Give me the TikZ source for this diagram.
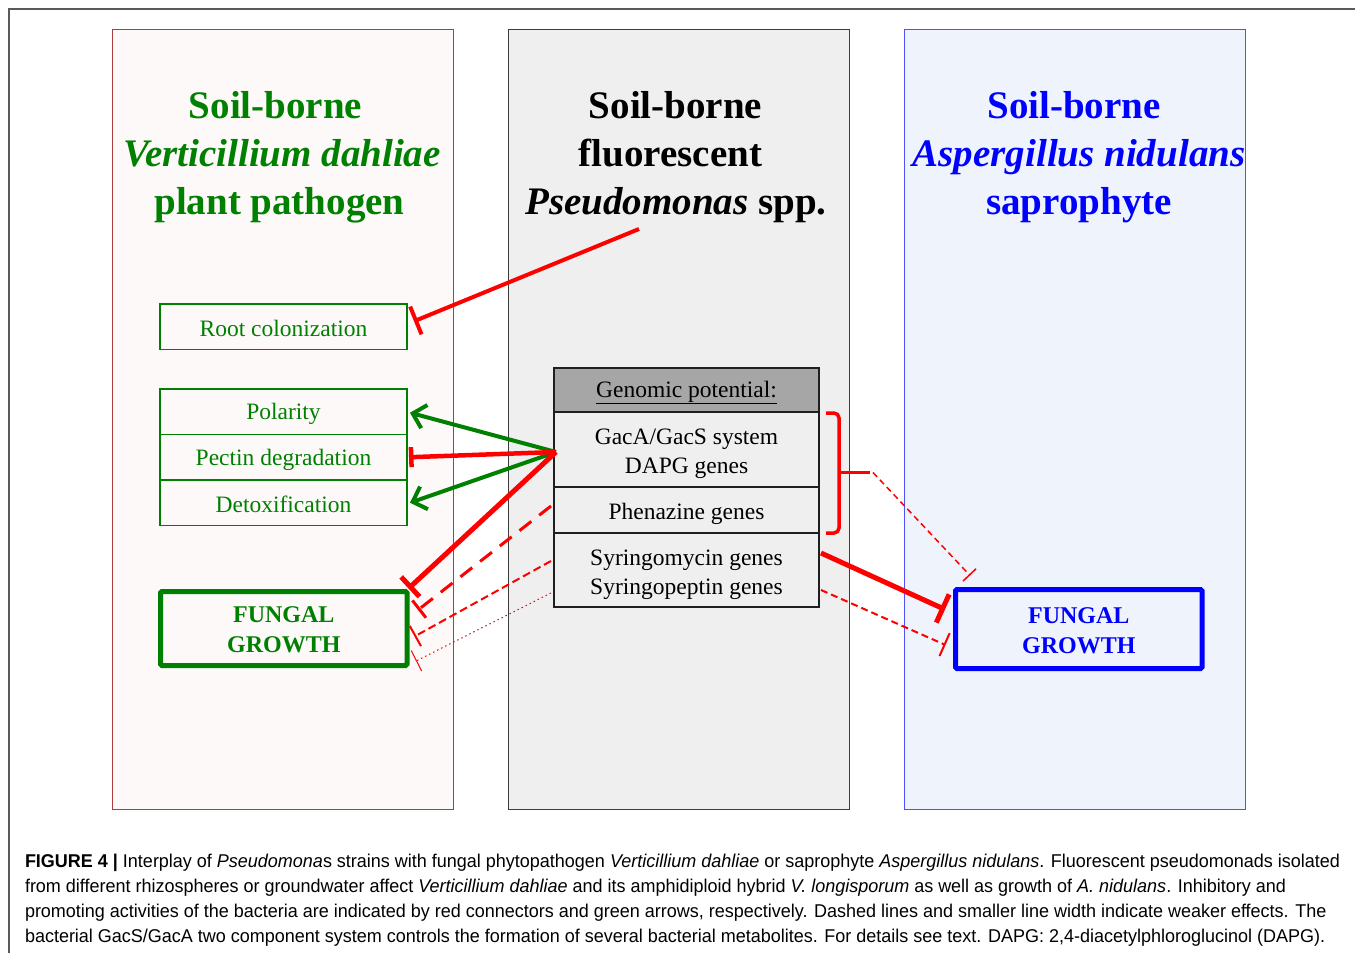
\documentclass[tikz,border=0pt]{standalone}
\usepackage{fontspec}
\usepackage{graphicx}
\setmainfont{Liberation Serif}
\newfontfamily\capfont{Liberation Sans}
\usetikzlibrary{arrows.meta}
\definecolor{dgreen}{RGB}{0,128,0}
\definecolor{lborder}{RGB}{175,60,60}
\definecolor{lfill}{RGB}{253,249,249}
\definecolor{mfill}{RGB}{239,239,239}
\definecolor{mborder}{RGB}{60,60,60}
\definecolor{rfill}{RGB}{239,243,252}
\definecolor{rborder}{RGB}{80,80,255}
\definecolor{hfill}{RGB}{166,166,166}
\definecolor{ired}{RGB}{255,0,0}
\definecolor{capgray}{RGB}{45,45,45}
\definecolor{framegray}{RGB}{90,90,90}
\newcommand\dnshift[2]{\raisebox{-#1}[\height][\depth]{#2}}
\newsavebox\capboxA
\newsavebox\capboxB
\newsavebox\capboxC
\newsavebox\capboxD
\begin{document}
\sbox\capboxA{\capfont\fontsize{18.5}{25}\selectfont\textbf{FIGURE 4 |} Interplay of \textit{Pseudomona}s strains with fungal phytopathogen \textit{Verticillium dahliae} or saprophyte \textit{Aspergillus nidulans}. Fluorescent pseudomonads isolated}%
\sbox\capboxB{\capfont\fontsize{18.5}{25}\selectfont from different rhizospheres or groundwater affect \textit{Verticillium dahliae} and its amphidiploid hybrid \textit{V. longisporum} as well as growth of \textit{A. nidulans}. Inhibitory and}%
\sbox\capboxC{\capfont\fontsize{18.5}{25}\selectfont promoting activities of the bacteria are indicated by red connectors and green arrows, respectively. Dashed lines and smaller line width indicate weaker effects. The}%
\sbox\capboxD{\capfont\fontsize{18.5}{25}\selectfont bacterial GacS/GacA two component system controls the formation of several bacterial metabolites. For details see text. DAPG: 2,4-diacetylphloroglucinol (DAPG).}%
\pgfmathsetmacro\capsc{1315/\the\wd\capboxA}%
\begin{tikzpicture}[x=1pt,y=-1pt,
  every node/.append style={outer sep=0pt},
  panel/.style={anchor=north west, minimum width=341pt, minimum height=780pt, inner sep=0pt, line width=1pt, draw},
  title/.style={anchor=base, inner sep=0pt, font=\fontsize{39}{47}\selectfont\bfseries},
  gbox/.style={anchor=north west, draw=dgreen, line width=1.5pt, text=dgreen, minimum width=247pt, minimum height=45.5pt, inner sep=0pt, font=\fontsize{23.5}{29}\selectfont},
  fgbox/.style={anchor=north west, line width=5pt, rounded corners=1.5pt, minimum width=246.5pt, inner sep=0pt, align=center, font=\fontsize{24}{30}\selectfont\bfseries},
  genbox/.style={anchor=north west, draw=black!88, line width=2pt, fill=mfill, minimum width=265pt, inner sep=0pt, align=center, font=\fontsize{23.5}{29}\selectfont},
  inh/.style={draw=ired, line cap=butt},
  prom/.style={draw=dgreen, line width=4pt, -{Straight Barb[length=12pt,width=24pt]}},
  captext/.style={anchor=base west, inner sep=0pt, text=capgray}
]
\useasboundingbox (0,0) rectangle (1355,953);
% outer frame
\draw[framegray, line width=1.5pt] (9,953) -- (9,9) -- (1355,9);
% panels
\node[panel, draw=lborder, fill=lfill] (lp) at (112,29) {};
\node[panel, draw=mborder, fill=mfill] (mp) at (508,29) {};
\node[panel, draw=rborder, fill=rfill] (rp) at (904,29) {};
% titles
\node[title, text=dgreen] (lt1) at (275.5,118) {Soil-borne};
\node[title, text=dgreen] (lt2) at (282,166) {\itshape Verticillium dahliae};
\node[title, text=dgreen] (lt3) at (279.5,214) {plant pathogen};
\node[title] (mt1) at (675.5,118) {Soil-borne};
\node[title] (mt2) at (670.5,166) {fluorescent};
\node[title] (mt3) at (676,214) {\textit{Pseudomonas} spp.};
\node[title, text=blue] (rt1) at (1074,118) {Soil-borne};
\node[title, text=blue] (rt2) at (1079,166) {\itshape Aspergillus nidulans};
\node[title, text=blue] (rt3) at (1079,214) {saprophyte};
% left boxes
\node[gbox] (root) at (160,304) {\dnshift{2pt}{Root colonization}};
\node[gbox] (pol) at (160,389) {\dnshift{2.5pt}{Polarity}};
\node[gbox] (pec) at (160,434.5) {\dnshift{2.5pt}{Pectin degradation}};
\node[gbox] (det) at (160,480) {\dnshift{1.5pt}{Detoxification}};
\node[fgbox, draw=dgreen, text=dgreen, minimum height=74pt] (lfg) at (160.5,591.5) {\dnshift{1.5pt}{FUNGAL}\\\dnshift{1.5pt}{GROWTH}};
% genomic potential
\node[genbox, fill=hfill, minimum height=44pt] (gh) at (554,367.5) {\dnshift{3pt}{\underline{Genomic potential:}}};
\node[genbox, minimum height=75.5pt] (g1) at (554,411.5) {\dnshift{4.5pt}{GacA/GacS system}\\\dnshift{4.5pt}{DAPG genes}};
\node[genbox, minimum height=46pt] (g2) at (554,487) {\dnshift{4pt}{Phenazine genes}};
\node[genbox, minimum height=74pt] (g3) at (554,533) {\dnshift{4.5pt}{Syringomycin genes}\\\dnshift{4.5pt}{Syringopeptin genes}};
% right fungal growth
\node[fgbox, draw=blue, text=blue, minimum height=79pt] (rfg) at (955.5,589.5) {\dnshift{1.5pt}{FUNGAL}\\\dnshift{1.5pt}{GROWTH}};
% connector start points
\coordinate (psrc) at (639,229);
\coordinate (src) at (556,452);
\coordinate (phs) at (551,506);
\coordinate (syl) at (551,561);
\coordinate (syd) at (551,593);
\coordinate (brk) at (873,472.5);
\coordinate (syr1) at (821,553);
\coordinate (syr2) at (821,590);
% left connectors
\draw[inh, line width=4pt, -{Bar[width=30pt]}] (psrc) -- ([shift={(7,-5.5)}]root.east);
\draw[prom] (src) -- ([shift={(3,1)}]pol.east);
\draw[prom] (src) -- ([shift={(3,0)}]det.east);
\draw[inh, line width=4.5pt, -{Bar[width=20pt]}] (src) -- ([shift={(2,0)}]pec.east);
\draw[inh, line width=5pt, -{Bar[width=27pt]}] (src) -- ([shift={(1.5,-3)}]lfg.north east);
\draw[inh, line width=3pt, dash pattern=on 15pt off 10pt, -{Bar[width=22pt]}] (phs) -- ([shift={(11,18.5)}]lfg.north east);
\draw[inh, line width=2pt, dash pattern=on 8pt off 4pt, -{Bar[width=23pt]}] (syl) -- ([shift={(7.5,8)}]lfg.east);
\draw[inh, line width=1pt, dash pattern=on 1.5pt off 3pt, -{Bar[width=23pt]}] (syd) -- ([shift={(9,32.5)}]lfg.east);
% bracket
\draw[inh, line width=3.5pt, rounded corners=5pt] ([shift={(7,1.5)}]g1.north east) -- ++(13,0) coordinate (bt) -- ([shift={(20,0)}]g2.south east) -- ([shift={(7,0)}]g2.south east);
\draw[inh, line width=3.5pt] (839,472.5) -- (870,472.5);
% right connectors
\draw[inh, line width=1.5pt, dash pattern=on 6pt off 4pt, -{Bar[width=18pt]}] (brk) -- ([shift={(14.5,-14)}]rfg.north west);
\draw[inh, line width=5pt, -{Bar[width=31pt]}] (syr1) -- ([shift={(-10.5,-19.5)}]rfg.west);
\draw[inh, line width=2pt, dash pattern=on 7pt off 4pt, -{Bar[width=25pt]}] (syr2) -- ([shift={(-10,16)}]rfg.west);
% caption
\node[captext] (c1) at (25,867) {\scalebox{\capsc}[1]{\usebox\capboxA}};
\node[captext] (c2) at (25,892) {\scalebox{\capsc}[1]{\usebox\capboxB}};
\node[captext] (c3) at (25,917) {\scalebox{\capsc}[1]{\usebox\capboxC}};
\node[captext] (c4) at (25,942) {\scalebox{\capsc}[1]{\usebox\capboxD}};
\end{tikzpicture}
\end{document}
